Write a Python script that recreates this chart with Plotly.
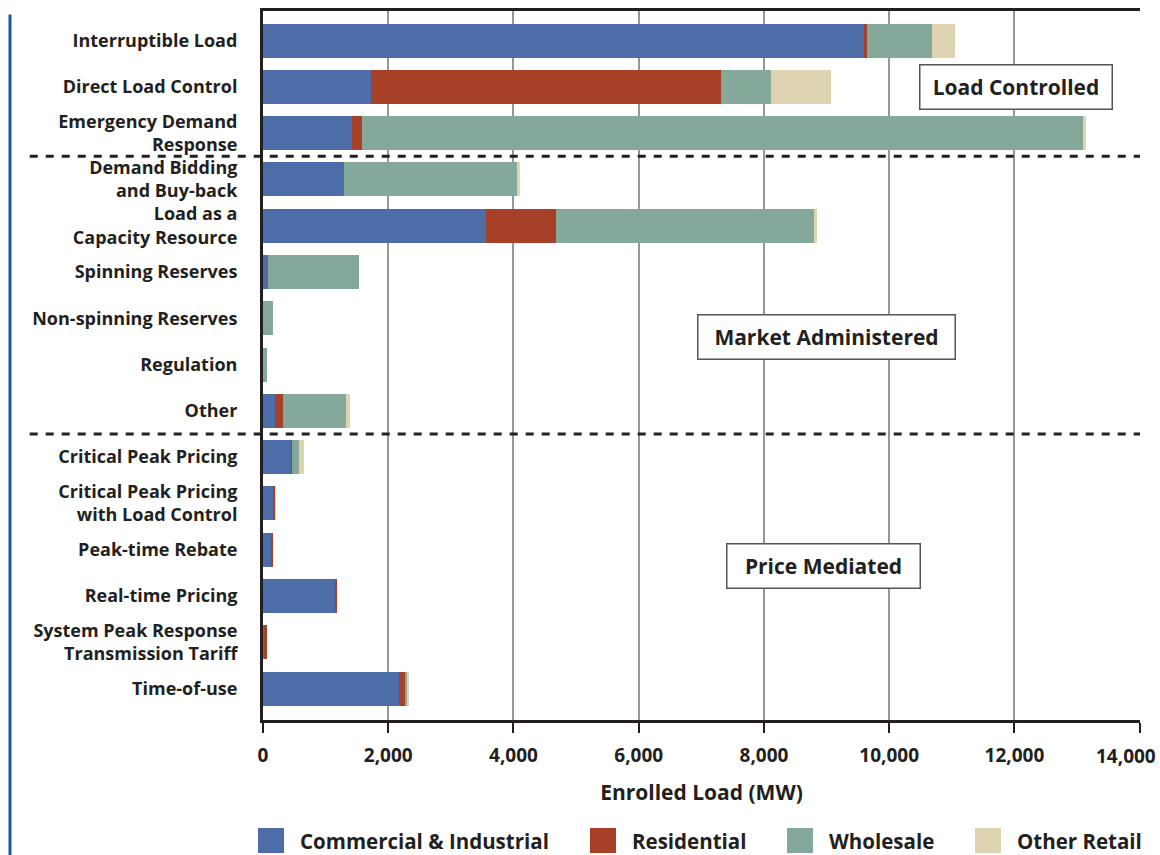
import plotly.graph_objects as go

# program types, top to bottom
programs = [
    "Interruptible Load",
    "Direct Load Control",
    "Emergency Demand<br>Response",
    "Demand Bidding<br>and Buy-back",
    "Load as a<br>Capacity Resource",
    "Spinning Reserves",
    "Non-spinning Reserves",
    "Regulation",
    "Other",
    "Critical Peak Pricing",
    "Critical Peak Pricing<br>with Load Control",
    "Peak-time Rebate",
    "Real-time Pricing",
    "System Peak Response<br>Transmission Tariff",
    "Time-of-use",
]

# enrolled load (MW) by customer class
commercial_industrial = [9590, 1720, 1420, 1290, 3560, 80, 0, 0, 190, 450, 165, 125, 1165, 10, 2170]
residential = [50, 5590, 160, 0, 1120, 0, 0, 0, 130, 15, 30, 35, 15, 50, 110]
wholesale = [1040, 800, 11530, 2780, 4120, 1450, 160, 60, 1010, 110, 0, 0, 0, 0, 30]
other_retail = [370, 960, 30, 30, 50, 0, 0, 0, 60, 80, 5, 0, 0, 0, 15]

series_names = ["Commercial & Industrial", "Residential", "Wholesale", "Other Retail"]
series_values = [commercial_industrial, residential, wholesale, other_retail]
colors = ["#4c6da8", "#a64026", "#84a99a", "#ded4b2"]

x_ticks = [0, 2000, 4000, 6000, 8000, 10000, 12000, 14000]
x_tick_text = ["0", "2,000", "4,000", "6,000", "8,000", "10,000", "12,000", "14,000"]

group_labels = ["Load Controlled", "Market Administered", "Price Mediated"]
group_label_pos = [(12020, 1.0), (9000, 6.4), (8950, 11.35)]
group_label_w = [175, 240, 176]
group_breaks = [2.5, 8.5]

TXT = "#231f20"
FONT = "Open Sans"
TICKFONT = dict(size=19, family=FONT, color=TXT, weight=700)

fig = go.Figure()
for name, vals, col in zip(series_names, series_values, colors):
    fig.add_trace(go.Bar(
        y=list(range(len(programs))),
        x=vals,
        name=name,
        orientation="h",
        marker=dict(color=col, line=dict(width=0)),
        showlegend=False,
    ))

# dashed separators between program groups
for yb in group_breaks:
    fig.add_shape(type="line", xref="paper", yref="y", x0=-0.266, x1=1, y0=yb, y1=yb,
                  line=dict(color=TXT, width=3, dash="8px,8px"), layer="above")

# group label boxes
for label, (gx, gy), w in zip(group_labels, group_label_pos, group_label_w):
    fig.add_annotation(x=gx, y=gy, xref="x", yref="y", text=label, showarrow=False,
                       width=w, height=27,
                       font=dict(family=FONT, size=21, color=TXT, weight=700),
                       bgcolor="white", bordercolor="#555555", borderwidth=1.5, borderpad=8)

# last x tick label: nudged left so it stays on the page, as in the original
fig.add_annotation(x=x_ticks[-1], y=-0.0508, xref="x", yref="paper", text=x_tick_text[-1],
                   showarrow=False, xanchor="center", yanchor="middle", xshift=-14,
                   font=TICKFONT)

# blue rule on the far left
fig.add_shape(type="line", xref="paper", yref="paper", x0=-0.2885, x1=-0.2885, y0=0.995, y1=-0.2,
              line=dict(color="#1a5aa6", width=3))

# legend drawn as squares + text
sq_left = [258, 590, 787, 975]
for name, col, px in zip(series_names, colors, sq_left):
    x0 = (px - 263) / 877
    x1 = (px + 26 - 263) / 877
    fig.add_shape(type="rect", xref="paper", yref="paper", x0=x0, x1=x1, y0=-0.1523, y1=-0.1876,
                  fillcolor=col, line=dict(width=0))
    fig.add_annotation(x=(px + 40 - 263) / 877, y=-0.17, xref="paper", yref="paper", text=name,
                       showarrow=False, xanchor="left", yanchor="middle",
                       font=dict(family=FONT, size=20.5, color=TXT, weight=700))

fig.update_layout(
    barmode="stack",
    bargap=0.266,
    width=1160,
    height=855,
    margin=dict(l=263, r=20, t=11, b=135),
    plot_bgcolor="white",
    paper_bgcolor="white",
    font=dict(family=FONT, color=TXT, size=18, weight=700),
    xaxis=dict(
        range=[0, 14005],
        automargin=False,
        tickvals=x_ticks,
        ticktext=x_tick_text[:-1] + [""],
        ticks="outside",
        ticklen=10,
        tickwidth=2,
        tickcolor=TXT,
        ticklabelstandoff=6,
        tickfont=TICKFONT,
        showgrid=True,
        gridcolor="#97979b",
        gridwidth=2,
        zeroline=False,
        showline=True,
        linecolor=TXT,
        linewidth=3,
        mirror=True,
        title=dict(text="Enrolled Load (MW)", font=dict(size=21, family=FONT, color=TXT, weight=700),
                   standoff=19),
    ),
    yaxis=dict(
        range=[14.68, -0.64],
        automargin=False,
        tickvals=list(range(len(programs))),
        ticktext=programs,
        ticks="",
        ticklabelstandoff=19,
        tickfont=dict(size=18, family=FONT, color=TXT, weight=700),
        showgrid=False,
        zeroline=False,
        showline=True,
        linecolor=TXT,
        linewidth=3,
    ),
)

fig.write_html("out.html", config={"displayModeBar": False},
               post_script="document.body.style.margin='0';")
